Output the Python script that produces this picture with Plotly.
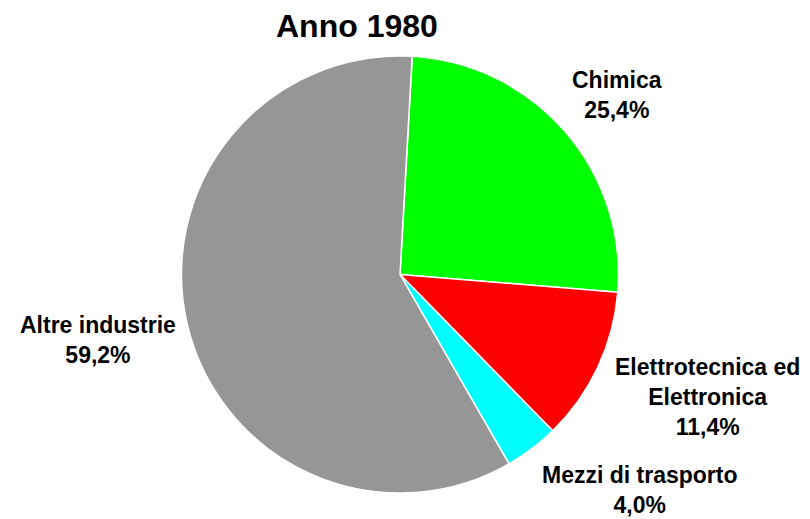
import plotly.graph_objects as go

title = "Anno 1980"
categories = ["Chimica", "Elettrotecnica ed<br>Elettronica", "Mezzi di trasporto", "Altre industrie"]
values = [25.4, 11.4, 4.0, 59.2]
colors = ["#00FF00", "#FF0000", "#00FFFF", "#969696"]

OFF = 8  # page body margin of the browser
W, H = 810 - OFF, 519 - OFF
# label centres (window pixels) chosen to match the reference layout
label_pos = [(617, 95), (707, 397), (640, 490), (98, 340)]

cx, cy, r = 400 - OFF, 274.5 - OFF, 218.5
fig = go.Figure(go.Pie(
    labels=categories,
    values=values,
    sort=False,
    direction="clockwise",
    rotation=3.2,
    marker=dict(colors=colors, line=dict(color="white", width=1.5)),
    textinfo="none",
    hoverinfo="label+percent",
    showlegend=False,
    domain=dict(x=[(cx - r) / W, (cx + r) / W], y=[1 - (cy + r) / H, 1 - (cy - r) / H]),
))

font = dict(family="Liberation Sans, Arial, sans-serif", size=23, color="black")
anns = []
for lab, v, (px, py) in zip(categories, values, label_pos):
    txt = f"<b>{lab}<br>{v:.1f}%</b>".replace(".", ",")
    anns.append(dict(x=(px - OFF) / W, y=1 - (py - OFF) / H, xref="paper", yref="paper", text=txt,
                     showarrow=False, xanchor="center", yanchor="middle", align="center", font=font))
anns.append(dict(x=(357 - OFF) / W, y=1 - (26 - OFF) / H, xref="paper", yref="paper", text=f"<b>{title}</b>",
                 showarrow=False, xanchor="center", yanchor="middle",
                 font=dict(family="Liberation Sans, Arial, sans-serif", size=32, color="black")))

fig.update_layout(width=W, height=H, margin=dict(l=0, r=0, t=0, b=0),
                  paper_bgcolor="white", plot_bgcolor="white", annotations=anns)
fig.write_html("out.html")
